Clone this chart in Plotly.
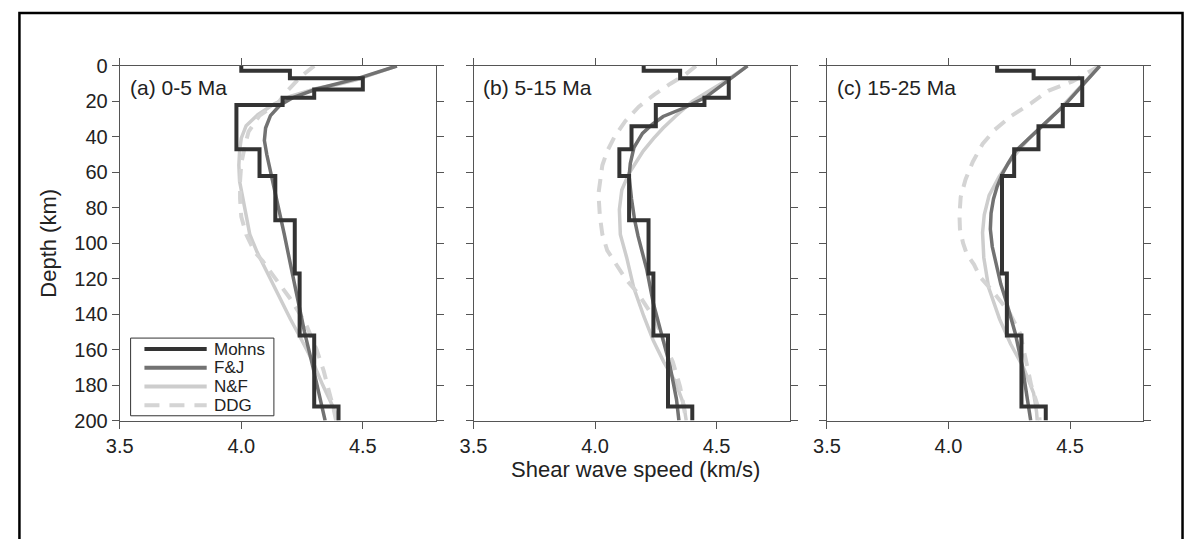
import plotly.graph_objects as go

# ---------------- data ----------------
X_TICKS = [3.5, 4.0, 4.5]
Y_TICKS = [0, 20, 40, 60, 80, 100, 120, 140, 160, 180, 200]
PANEL_TITLES = ["(a) 0-5 Ma", "(b) 5-15 Ma", "(c) 15-25 Ma"]
SERIES = ["Mohns", "F&J", "N&F", "DDG"]
DEPTH_MAX = 200

# Mohns step models: layer top depth (km) and shear speed (km/s)
mohns_a_top = [0, 2.7, 7, 13.3, 18, 22, 47, 62, 87, 117, 152, 192]
mohns_a_vs = [4.00, 4.20, 4.50, 4.30, 4.17, 3.98, 4.075, 4.14, 4.22, 4.24, 4.30, 4.40]
mohns_b_top = [0, 2.7, 7, 18, 22, 34, 47, 62, 87, 117, 152, 192]
mohns_b_vs = [4.20, 4.35, 4.55, 4.45, 4.25, 4.15, 4.10, 4.14, 4.22, 4.24, 4.30, 4.40]
mohns_c_top = [0, 2.7, 7, 22, 34, 47, 62, 117, 152, 192]
mohns_c_vs = [4.20, 4.35, 4.55, 4.47, 4.37, 4.27, 4.22, 4.24, 4.30, 4.40]

# F&J
fj_a_d = [0, 7, 13, 18, 22, 28, 35, 42, 50, 62, 77, 95, 113, 131, 150, 167, 182, 192, 200]
fj_a_v = [4.64, 4.48, 4.31, 4.21, 4.16, 4.12, 4.10, 4.095, 4.105, 4.125, 4.15, 4.177, 4.204, 4.231, 4.26, 4.29, 4.315, 4.335, 4.345]
fj_b_d = [0, 7.7, 17.7, 24, 28.5, 33, 38, 46, 55, 62, 75, 87, 96, 115, 134, 151.5, 169, 188, 200]
fj_b_v = [4.627, 4.552, 4.455, 4.36, 4.28, 4.235, 4.195, 4.16, 4.145, 4.14, 4.15, 4.163, 4.177, 4.213, 4.24, 4.274, 4.308, 4.335, 4.345]
fj_c_d = [0, 10, 21.8, 28, 34, 41, 48, 55, 61, 68, 75, 83, 92, 102, 112, 123, 134, 151, 169, 188, 200]
fj_c_v = [4.622, 4.557, 4.48, 4.43, 4.385, 4.33, 4.276, 4.245, 4.221, 4.20, 4.185, 4.175, 4.172, 4.18, 4.195, 4.215, 4.24, 4.275, 4.303, 4.325, 4.338]

# N&F
nf_a_d = [0, 8, 10.5, 12.6, 17, 21.4, 27.5, 33.7, 40.7, 48, 56, 65, 75, 85, 95, 105, 117, 130, 143, 155, 167, 180, 193, 200]
nf_a_v = [4.64, 4.47, 4.395, 4.313, 4.204, 4.136, 4.068, 4.02, 4.0, 3.993, 3.99, 3.993, 4.007, 4.02, 4.035, 4.065, 4.108, 4.155, 4.203, 4.25, 4.295, 4.335, 4.38, 4.40]
nf_b_d = [0, 7.8, 14, 20, 28.5, 35, 41, 48, 54, 61, 70, 81, 95, 108, 125, 141, 155, 167, 178, 191, 200]
nf_b_v = [4.627, 4.545, 4.47, 4.40, 4.33, 4.28, 4.24, 4.198, 4.17, 4.138, 4.11, 4.10, 4.104, 4.13, 4.159, 4.20, 4.24, 4.283, 4.33, 4.365, 4.375]
nf_c_d = [0, 14.7, 29, 41, 52, 62.5, 73, 84, 94, 108, 125, 142.8, 156.7, 170.6, 184.5, 195, 200]
nf_c_v = [4.622, 4.52, 4.425, 4.33, 4.262, 4.208, 4.167, 4.147, 4.14, 4.145, 4.165, 4.21, 4.255, 4.31, 4.35, 4.362, 4.365]

# DDG
ddg_a_d = [0, 6, 14, 21, 28, 37, 45, 55, 65, 75, 85, 95, 105, 110, 118, 131, 145, 160, 172, 185, 193, 200]
ddg_a_v = [4.30, 4.245, 4.19, 4.15, 4.075, 4.03, 4.015, 4.0, 3.995, 3.995, 4.0, 4.02, 4.055, 4.088, 4.13, 4.20, 4.264, 4.31, 4.339, 4.365, 4.379, 4.39]
ddg_b_d = [0, 5, 10, 16, 23, 31, 40, 48, 56, 64, 72, 85, 95, 104, 113, 120, 128, 135, 143, 157, 167, 181, 195, 200]
ddg_b_v = [4.415, 4.37, 4.31, 4.245, 4.18, 4.125, 4.08, 4.05, 4.03, 4.02, 4.014, 4.02, 4.03, 4.05, 4.09, 4.125, 4.175, 4.21, 4.247, 4.288, 4.32, 4.35, 4.37, 4.375]
ddg_c_d = [0, 4, 8.7, 14, 21, 28, 36, 44, 54, 64, 74, 84, 92, 100, 106, 112, 119, 126, 131, 139, 151, 165, 180, 193, 200]
ddg_c_v = [4.62, 4.57, 4.51, 4.41, 4.34, 4.26, 4.19, 4.14, 4.10, 4.07, 4.05, 4.045, 4.047, 4.06, 4.075, 4.105, 4.13, 4.175, 4.205, 4.25, 4.295, 4.318, 4.34, 4.37, 4.375]

panels = [
    dict(mtop=mohns_a_top, mvs=mohns_a_vs, fj=(fj_a_v, fj_a_d), nf=(nf_a_v, nf_a_d), ddg=(ddg_a_v, ddg_a_d)),
    dict(mtop=mohns_b_top, mvs=mohns_b_vs, fj=(fj_b_v, fj_b_d), nf=(nf_b_v, nf_b_d), ddg=(ddg_b_v, ddg_b_d)),
    dict(mtop=mohns_c_top, mvs=mohns_c_vs, fj=(fj_c_v, fj_c_d), nf=(nf_c_v, nf_c_d), ddg=(ddg_c_v, ddg_c_d)),
]

# ---------------- styling ----------------
W, H = 1185, 539
FONT = "Liberation Sans, Arial, sans-serif"
TXT = "#222222"
AX = "#555555"
COL = {"Mohns": "#333333", "F&J": "#727272", "N&F": "#cdcdcd", "DDG": "#d4d4d4"}
WID = {"Mohns": 4, "F&J": 3.5, "N&F": 3.5, "DDG": 4}
DASH = {"Mohns": "solid", "F&J": "solid", "N&F": "solid", "DDG": "13px,9px"}

x_dom_px = [(107, 426.8), (465, 784.8), (822.7, 1142.5)]
y_dom = [1 - 427 / H, 1 - 57.3 / H]

fig = go.Figure()
for i, p in enumerate(panels):
    xa = "x" if i == 0 else f"x{i+1}"
    ya = "y" if i == 0 else f"y{i+1}"
    for name, key in [("N&F", "nf"), ("DDG", "ddg"), ("F&J", "fj")]:
        fig.add_trace(go.Scatter(x=p[key][0], y=p[key][1], mode="lines", name=name,
                                 line=dict(color=COL[name], width=WID[name], dash=DASH[name]),
                                 xaxis=xa, yaxis=ya, showlegend=False, hoverinfo="skip"))
    mx = list(p["mvs"]) + [p["mvs"][-1]]
    my = list(p["mtop"]) + [DEPTH_MAX]
    fig.add_trace(go.Scatter(x=mx, y=my, mode="lines", name="Mohns", line_shape="vh",
                             line=dict(color=COL["Mohns"], width=WID["Mohns"]), xaxis=xa, yaxis=ya,
                             showlegend=False, hoverinfo="skip"))

axis_common = dict(showline=True, linecolor=AX, linewidth=1, mirror="ticks", ticks="outside",
                   ticklen=7, tickwidth=1, tickcolor=AX, showgrid=False, zeroline=False,
                   tickfont=dict(family=FONT, size=20, color=TXT))

layout = dict(width=W, height=H, margin=dict(l=0, r=0, t=0, b=0),
              paper_bgcolor="white", plot_bgcolor="white", showlegend=False,
              font=dict(family=FONT, color=TXT))
annotations = []
shapes = []
for i in range(3):
    sx = "" if i == 0 else str(i + 1)
    layout[f"xaxis{sx}"] = dict(domain=[x_dom_px[i][0] / W, x_dom_px[i][1] / W], range=[3.5, 4.8],
                                tickvals=X_TICKS, tickformat=".1f", anchor=f"y{sx}", **axis_common)
    layout[f"yaxis{sx}"] = dict(domain=y_dom, range=[DEPTH_MAX, 0], tickvals=Y_TICKS,
                                anchor=f"x{sx}", showticklabels=(i == 0), **axis_common)
    annotations.append(dict(text=PANEL_TITLES[i], xref=f"x{sx} domain", yref=f"y{sx} domain",
                            x=0.025, y=0.9405, xanchor="left", yanchor="middle", showarrow=False,
                            font=dict(family=FONT, size=21, color=TXT)))

annotations.append(dict(text="Shear wave speed (km/s)", xref="paper", yref="paper",
                        x=629 / W, y=1 - 478.5 / H, xanchor="center", yanchor="middle",
                        showarrow=False, borderpad=0, font=dict(family=FONT, size=22, color=TXT)))
annotations.append(dict(text="Depth (km)", xref="paper", yref="paper", textangle=-90,
                        x=35 / W, y=1 - 242 / H, xanchor="center", yanchor="middle",
                        showarrow=False, font=dict(family=FONT, size=22, color=TXT)))

# legend box (inside panel a)
LEG_BOX = (118, 341, 263, 422)
LEG_ROW0, LEG_DY = 352.5, 19.5
shapes.append(dict(type="rect", xref="paper", yref="paper",
                   x0=LEG_BOX[0] / W, x1=LEG_BOX[2] / W, y0=1 - LEG_BOX[3] / H, y1=1 - LEG_BOX[1] / H,
                   line=dict(color="#333333", width=1), fillcolor="white", layer="above"))
for k, name in enumerate(SERIES):
    yy = 1 - (LEG_ROW0 + k * LEG_DY) / H
    shapes.append(dict(type="line", xref="paper", yref="paper", x0=132 / W, x1=195 / W, y0=yy, y1=yy,
                       line=dict(color=COL[name], width=4,
                                 dash=DASH[name] if name != "DDG" else "15px,10px"),
                       layer="above"))
    annotations.append(dict(text=name, xref="paper", yref="paper", x=201 / W, y=yy,
                            xanchor="left", yanchor="middle", showarrow=False, borderpad=0,
                            font=dict(family=FONT, size=17, color=TXT)))

# outer frame
shapes.append(dict(type="rect", xref="paper", yref="paper", x0=5.5 / W, x1=1 - 2.5 / W,
                   y0=-0.1, y1=1 - 2 / H, line=dict(color="black", width=2.5),
                   fillcolor="rgba(0,0,0,0)", layer="above"))

layout["annotations"] = annotations
layout["shapes"] = shapes
fig.update_layout(**layout)
fig.write_html("out.html",
               post_script="document.body.style.margin='0px';document.documentElement.style.overflow='hidden';")
